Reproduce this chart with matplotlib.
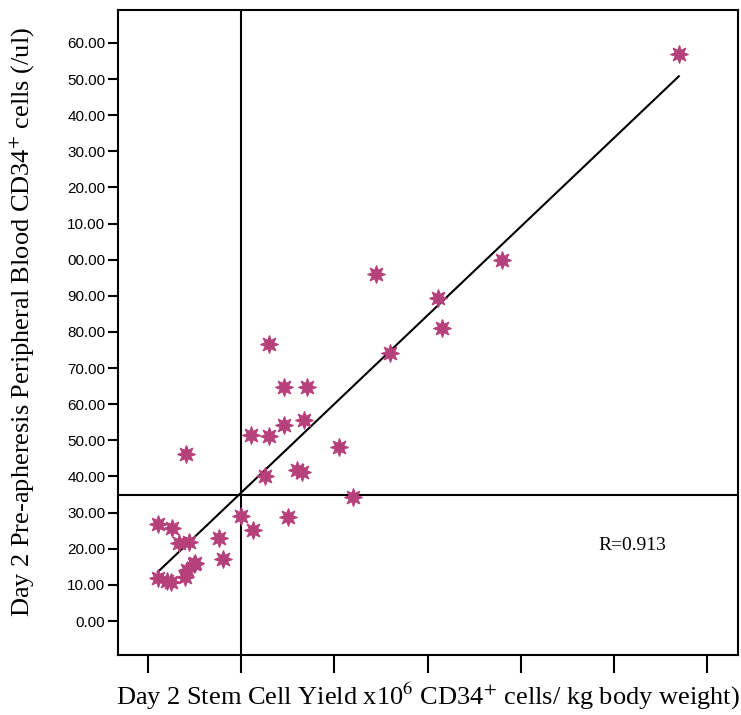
import numpy as np
import matplotlib
matplotlib.use("Agg")
import matplotlib.pyplot as plt

plt.rcParams['mathtext.fontset'] = 'stix'

# Day 2 stem cell yield (x10^6 CD34+/kg) vs pre-apheresis PB CD34+ (/ul)
yield_x = [11.39, 7.60, 4.89, 6.22, 6.31, 5.19, 2.60, 2.92, 3.41, 3.35,
           2.92, 2.21, 2.60, 0.82, 4.10, 3.20, 3.30, 2.51, 4.40, 2.00,
           3.00, 2.25, 0.21, 0.52, 0.67, 0.89, 1.52, 1.61, 1.01, 0.99,
           0.84, 0.80, 0.21, 0.40, 0.50]
pb_cd34 = [156.9, 99.9, 96.1, 89.4, 81.1, 74.2, 76.7, 64.8, 64.8, 55.6,
           54.3, 51.5, 51.2, 46.2, 48.2, 41.8, 41.2, 40.1, 34.3, 29.1,
           28.8, 25.2, 26.9, 25.7, 21.6, 21.9, 23.0, 17.2, 16.1, 15.9,
           14.1, 12.2, 11.9, 11.0, 10.7]

x_cut = 2.0
y_cut = 35.0
r_text = "R=0.913"

y_ticks = [0, 10, 20, 30, 40, 50, 60, 70, 80, 90, 100, 110, 120, 130, 140, 150, 160]
y_labels = ["0.00", "10.00", "20.00", "30.00", "40.00", "50.00", "60.00", "70.00",
            "80.00", "90.00", "00.00", "10.00", "20.00", "30.00", "40.00", "50.00", "60.00"]
x_ticks = [0, 2, 4, 6, 8, 10, 12]

x = np.array(yield_x)
y = np.array(pb_cd34)
slope, icpt = np.polyfit(x, y, 1)
xs = np.array([x.min(), x.max()])

fig = plt.figure(figsize=(7.41, 7.15), dpi=100)
ax = fig.add_axes([118/741, 60/715, 620/741, 645/715])

ax.plot(xs, slope * xs + icpt, color="black", lw=1.5, zorder=2)
ax.axvline(x_cut, color="black", lw=1.5, zorder=1)
ax.axhline(y_cut, color="black", lw=1.5, zorder=1)
ax.plot(x, y, linestyle="none", marker=(8, 1, 0), markersize=13,
        color="#B5407A", markeredgecolor="#B5407A", markeredgewidth=0.8, zorder=3)

ax.set_xlim(-0.644, 12.66)
ax.set_ylim(-9.4, 169.1)
ax.set_yticks(y_ticks)
ax.set_yticklabels(y_labels, fontfamily="Liberation Sans", fontsize=11)
ax.set_xticks(x_ticks)
ax.set_xticklabels([""] * len(x_ticks))
ax.tick_params(axis="y", direction="out", length=7, width=1.5, pad=2)
ax.tick_params(axis="x", direction="out", length=13, width=1.5)
for s in ax.spines.values():
    s.set_linewidth(1.5)

ax.text(0.83, 0.17, r_text, transform=ax.transAxes, fontsize=14,
        fontfamily="Liberation Serif", ha="center", va="center")

ax.set_xlabel(r"Day 2 Stem Cell Yield x10$^{6}$ CD34$^{+}$ cells/ kg body weight)",
              fontfamily="Liberation Serif", fontsize=19, labelpad=2)
ax.set_ylabel(r"Day 2 Pre-apheresis Peripheral Blood CD34$^{+}$ cells (/ul)",
              fontfamily="Liberation Serif", fontsize=19, ha="center", va="center")
ax.yaxis.set_label_coords(-0.155, 0.516)

fig.savefig("out.png", dpi=100)
